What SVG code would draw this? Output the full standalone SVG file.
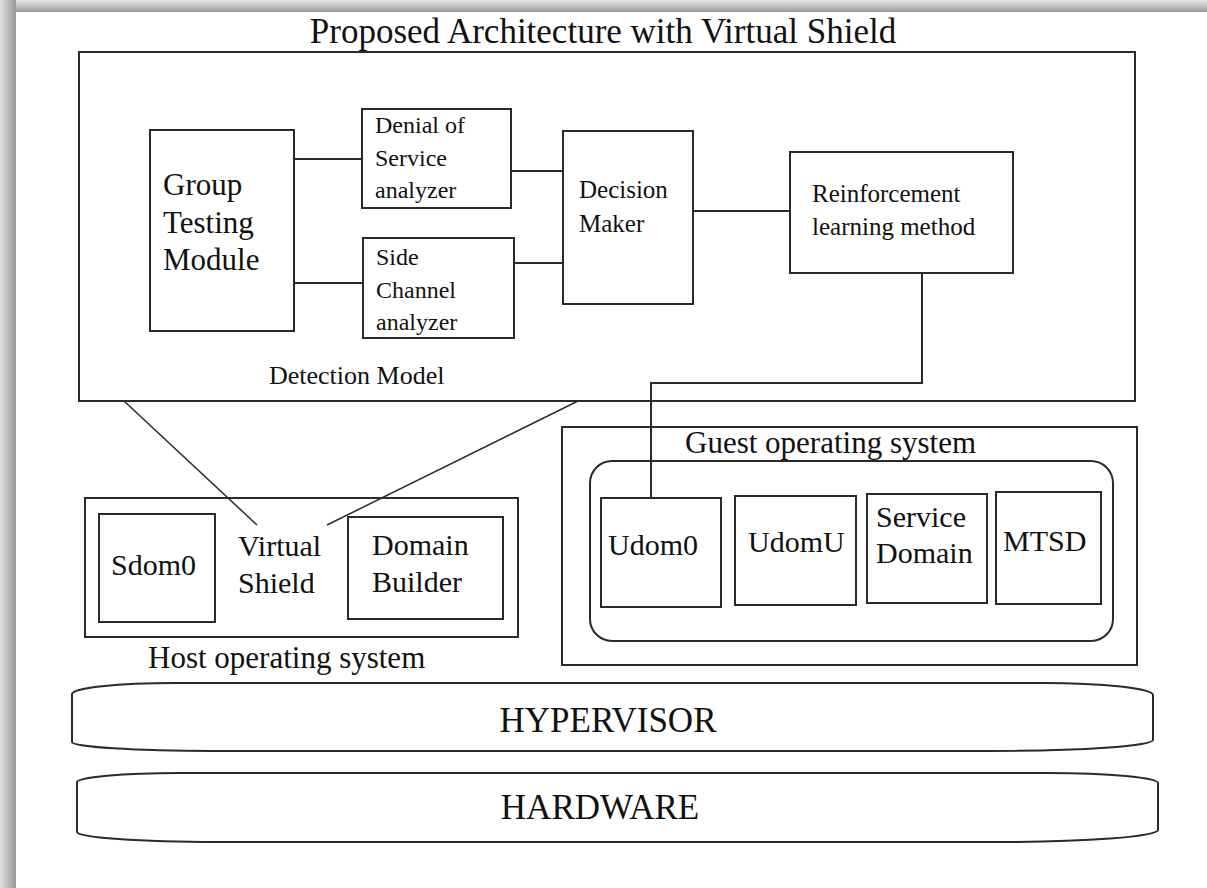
<svg xmlns="http://www.w3.org/2000/svg" width="1207" height="888" viewBox="0 0 1207 888">
  <defs>
    <linearGradient id="gTop" x1="0" y1="0" x2="0" y2="1">
      <stop offset="0" stop-color="#e6e6e6"/>
      <stop offset="1" stop-color="#9c9c9c"/>
    </linearGradient>
    <linearGradient id="gLeft" x1="0" y1="0" x2="1" y2="0">
      <stop offset="0" stop-color="#e0e0e0"/>
      <stop offset="1" stop-color="#9a9a9a"/>
    </linearGradient>
  </defs>
  <style>
    .box { fill: #ffffff; stroke: #2a2a2a; stroke-width: 2; }
    .ln { fill: none; stroke: #2a2a2a; stroke-width: 2; }
    .ln1 { fill: none; stroke: #2a2a2a; stroke-width: 1.5; }
    text { font-family: "Liberation Serif", "Times New Roman", serif; fill: #111111; }
    .t35 { font-size: 35px; }
    .t31 { font-size: 31px; }
    .t30 { font-size: 30px; }
    .t26 { font-size: 26px; }
    .t25 { font-size: 25px; }
    .t24 { font-size: 24px; }
    .mid { text-anchor: middle; }
  </style>

  <!-- background and frame shadow -->
  <rect x="0" y="0" width="1207" height="888" fill="#ffffff"/>
  <rect x="0" y="0" width="1207" height="12" fill="url(#gTop)"/>
  <rect x="0" y="0" width="16" height="888" fill="url(#gLeft)"/>
  <rect x="16" y="12" width="1191" height="876" fill="#ffffff"/>

  <text id="title" class="t35 mid" x="603" y="43">Proposed Architecture with Virtual Shield</text>

  <!-- Detection Model container -->
  <g id="detection-model">
    <rect class="box" x="79" y="52" width="1056" height="349"/>
    <text class="t26" x="269" y="384">Detection Model</text>
  </g>

  <g id="group-testing-module">
    <rect class="box" x="150" y="130" width="144" height="201"/>
    <text class="t31" x="163" y="195">Group</text>
    <text class="t31" x="163" y="233">Testing</text>
    <text class="t31" x="163" y="270">Module</text>
  </g>

  <g id="dos-analyzer">
    <rect class="box" x="362" y="109" width="149" height="99"/>
    <text class="t24" x="375" y="133">Denial of</text>
    <text class="t24" x="375" y="166">Service</text>
    <text class="t24" x="375" y="198">analyzer</text>
  </g>

  <g id="side-channel-analyzer">
    <rect class="box" x="363" y="238" width="151" height="100"/>
    <text class="t24" x="376" y="265">Side</text>
    <text class="t24" x="376" y="298">Channel</text>
    <text class="t24" x="376" y="330">analyzer</text>
  </g>

  <g id="decision-maker">
    <rect class="box" x="563" y="131" width="130" height="173"/>
    <text class="t25" x="579" y="198">Decision</text>
    <text class="t25" x="579" y="232">Maker</text>
  </g>

  <g id="reinforcement-learning">
    <rect class="box" x="790" y="152" width="223" height="121"/>
    <text class="t25" x="812" y="202">Reinforcement</text>
    <text class="t25" x="812" y="235">learning method</text>
  </g>

  <!-- Host operating system -->
  <g id="host-os">
    <rect class="box" x="85" y="498" width="433" height="139"/>
    <text class="t31" x="148" y="668">Host operating system</text>
  </g>
  <g id="sdom0">
    <rect class="box" x="99" y="514" width="116" height="108"/>
    <text class="t30" x="111" y="575">Sdom0</text>
  </g>
  <g id="virtual-shield">
    <text class="t30" x="238" y="556">Virtual</text>
    <text class="t30" x="238" y="593">Shield</text>
  </g>
  <g id="domain-builder">
    <rect class="box" x="348" y="517" width="155" height="102"/>
    <text class="t30" x="372" y="555">Domain</text>
    <text class="t30" x="372" y="592">Builder</text>
  </g>

  <!-- Guest operating system -->
  <g id="guest-os">
    <rect class="box" x="562" y="427" width="575" height="238"/>
    <text class="t31" x="685" y="453">Guest operating system</text>
    <rect class="box" x="590" y="461" width="523" height="180" rx="22" ry="22"/>
  </g>
  <g id="udom0">
    <rect class="box" x="601" y="498" width="120" height="109"/>
    <text class="t30" x="608" y="555">Udom0</text>
  </g>
  <g id="udomu">
    <rect class="box" x="735" y="496" width="121" height="109"/>
    <text class="t30" x="748" y="552">UdomU</text>
  </g>
  <g id="service-domain">
    <rect class="box" x="867" y="494" width="120" height="109"/>
    <text class="t30" x="876" y="527">Service</text>
    <text class="t30" x="876" y="563">Domain</text>
  </g>
  <g id="mtsd">
    <rect class="box" x="996" y="492" width="105" height="112"/>
    <text class="t30" x="1003" y="551">MTSD</text>
  </g>

  <!-- Hypervisor and Hardware -->
  <g id="hypervisor">
    <path class="box" d="M 175 683 H 1043 A 110 12 0 0 1 1153 695 V 740 A 163 11 0 0 1 990 751 H 213 A 141 9 0 0 1 72 742 V 694 A 103 11 0 0 1 175 683 Z"/>
    <text class="t35 mid" x="608" y="732">HYPERVISOR</text>
  </g>
  <g id="hardware">
    <path class="box" d="M 180 773 H 1048 A 110 10 0 0 1 1158 783 V 830 A 163 12 0 0 1 995 842 H 218 A 141 10 0 0 1 77 832 V 782 A 103 9 0 0 1 180 773 Z"/>
    <text class="t35 mid" x="600" y="819">HARDWARE</text>
  </g>

  <!-- connectors -->
  <g id="connectors">
    <line class="ln" x1="294" y1="159" x2="362" y2="159"/>
    <line class="ln" x1="294" y1="283" x2="363" y2="283"/>
    <line class="ln" x1="511" y1="171" x2="563" y2="171"/>
    <line class="ln" x1="514" y1="263" x2="563" y2="263"/>
    <line class="ln" x1="693" y1="211" x2="790" y2="211"/>
    <polyline class="ln" points="922,273 922,383 651,383 651,498"/>
    <line class="ln1" x1="124" y1="401" x2="257" y2="525"/>
    <line class="ln1" x1="327" y1="525" x2="578" y2="401"/>
  </g>
</svg>
